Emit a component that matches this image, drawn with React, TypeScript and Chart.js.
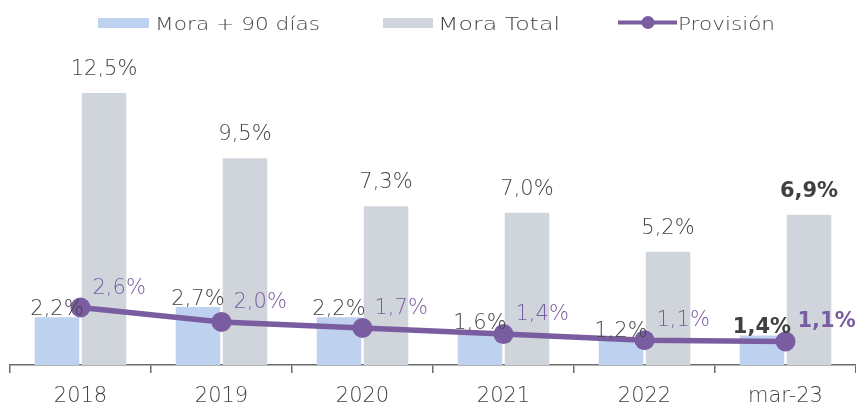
import { useEffect, useRef } from 'react';
import { Chart, registerables } from 'chart.js';

Chart.register(...registerables);

const categories = ['2018', '2019', '2020', '2021', '2022', 'mar-23'];
const mora90 = [2.2, 2.66, 2.2, 1.56, 1.2, 1.36];
const moraTotal = [12.5, 9.5, 7.3, 7.0, 5.2, 6.9];
const provision = [2.64, 1.98, 1.7, 1.42, 1.14, 1.08];
const seriesNames = ['Mora + 90 días', 'Mora Total', 'Provisión'];

const BLUE = '#BED1EF';
const GRAY = '#D0D5DB';
const PURPLE = '#7A5CA0';
const TEXT = '#444444';
const FONT = '"DejaVu Sans"';

const fmt = (v: number) => v.toFixed(1).replace('.', ',') + '%';

function fitText(ctx: CanvasRenderingContext2D, text: string, x: number, y: number, w: number) {
  const m = ctx.measureText(text).width;
  const s = w / m;
  ctx.save();
  ctx.translate(x, y);
  ctx.scale(s, 1);
  ctx.fillText(text, 0, 0);
  ctx.restore();
}

const labelPlugin = {
  id: 'valueLabels',
  afterDatasetsDraw(chart: any) {
    const ctx = chart.ctx;
    const last = categories.length - 1;
    ctx.save();
    const m0 = chart.getDatasetMeta(0);
    const m1 = chart.getDatasetMeta(1);
    const m2 = chart.getDatasetMeta(2);
    categories.forEach((_, i) => {
      const bold = i === last;
      ctx.font = `${bold ? '600' : '200'} 21px ${FONT}`;
      ctx.fillStyle = bold ? '#404040' : TEXT;
      ctx.textAlign = 'center';
      ctx.textBaseline = 'alphabetic';
      const b0 = m0.data[i];
      ctx.fillText(fmt(mora90[i]), b0.x, b0.y - 2);
      const b1 = m1.data[i];
      ctx.fillText(fmt(moraTotal[i]), b1.x, b1.y - 18);
      const p = m2.data[i];
      ctx.fillStyle = PURPLE;
      ctx.textAlign = 'left';
      ctx.fillText(fmt(provision[i]), p.x + 12, p.y - 14);
    });
    ctx.restore();
  },
  afterDraw(chart: any) {
    const ctx = chart.ctx;
    ctx.save();
    ctx.font = `200 17px ${FONT}`;
    ctx.textBaseline = 'alphabetic';
    ctx.textAlign = 'left';
    ctx.fillStyle = BLUE;
    ctx.fillRect(98, 18, 51, 10);
    ctx.fillStyle = TEXT;
    fitText(ctx, seriesNames[0], 155, 30, 165);
    ctx.fillStyle = GRAY;
    ctx.fillRect(383, 18, 50, 10);
    ctx.fillStyle = TEXT;
    fitText(ctx, seriesNames[1], 438, 30, 122);
    ctx.strokeStyle = PURPLE;
    ctx.lineWidth = 4;
    ctx.beginPath();
    ctx.moveTo(618, 22.5);
    ctx.lineTo(677, 22.5);
    ctx.stroke();
    ctx.fillStyle = PURPLE;
    ctx.beginPath();
    ctx.arc(648, 22.5, 6.5, 0, Math.PI * 2);
    ctx.fill();
    ctx.fillStyle = TEXT;
    fitText(ctx, seriesNames[2], 678, 30, 97);
    ctx.restore();
  },
};

export default function App() {
  const ref = useRef<HTMLCanvasElement | null>(null);
  useEffect(() => {
    if (!ref.current) return;
    const chart = new Chart(ref.current, {
      type: 'bar',
      data: {
        labels: categories,
        datasets: [
          {
            type: 'bar',
            label: seriesNames[0],
            data: mora90,
            backgroundColor: BLUE,
            categoryPercentage: 0.667,
            barPercentage: 0.947,
            order: 2,
          },
          {
            type: 'bar',
            label: seriesNames[1],
            data: moraTotal,
            backgroundColor: GRAY,
            categoryPercentage: 0.667,
            barPercentage: 0.947,
            order: 2,
          },
          {
            type: 'line',
            label: seriesNames[2],
            data: provision,
            borderColor: PURPLE,
            backgroundColor: PURPLE,
            borderWidth: 5.5,
            pointRadius: 10,
            pointBackgroundColor: PURPLE,
            pointBorderWidth: 0,
            tension: 0,
            order: 1,
          } as any,
        ],
      },
      options: {
        animation: false,
        responsive: false,
        maintainAspectRatio: false,
        layout: { autoPadding: false, padding: { top: 38.6, left: 10, right: 0, bottom: 0 } },
        plugins: { legend: { display: false }, tooltip: { enabled: false } },
        scales: {
          x: {
            offset: true,
            afterFit: (scale: any) => {
              scale.height = 42;
              scale.paddingLeft = 0;
              scale.paddingRight = 0;
              scale.paddingTop = 0;
              scale.paddingBottom = 0;
            },
            grid: {
              offset: true,
              drawOnChartArea: false,
              drawTicks: true,
              tickLength: 8,
              color: '#6b6b6b',
              lineWidth: 1.5,
            },
            border: { color: '#6b6b6b', width: 1.5 },
            ticks: {
              color: TEXT,
              padding: 11,
              maxRotation: 0,
              minRotation: 0,
              font: { family: 'DejaVu Sans', size: 21, weight: '200' as any },
            },
          },
          y: { display: false, min: 0, max: 15 },
        },
      },
      plugins: [labelPlugin],
    });
    return () => chart.destroy();
  }, []);
  return (
    <div style={{ position: 'fixed', left: 0, top: 0, width: 856, height: 407, background: '#fff' }}>
      <canvas ref={ref} width={856} height={407} style={{ width: 856, height: 407 }} />
    </div>
  );
}
